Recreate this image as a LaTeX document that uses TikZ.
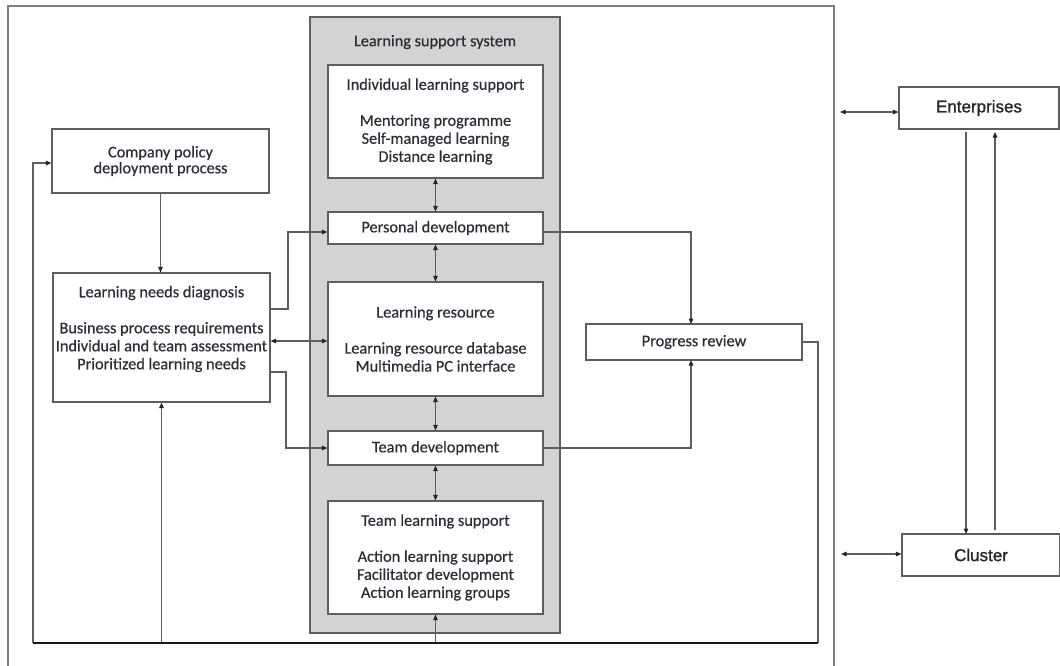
\documentclass[tikz,border=0pt]{standalone}
\usepackage{fontspec}
\setmainfont[FakeBold=0.45]{Carlito}
\newfontfamily\entfont[FakeBold=1.2]{Liberation Sans}
\usetikzlibrary{arrows.meta}
\definecolor{linegray}{HTML}{5E5E5E}
\definecolor{boxgray}{HTML}{D3D3D3}
\definecolor{txt}{HTML}{2C2C38}
\tikzset{
  tip/.tip={Triangle[length=5.5pt,width=4.5pt,color=black!85]},
  box/.style={draw=linegray, line width=1.1pt, fill=white, inner sep=0pt, text=txt, align=center,
     font=\fontsize{16.3}{18}\selectfont},
  lssbox/.style={draw=linegray, line width=1.3pt, fill=boxgray, inner sep=0pt},
  entbox/.style={draw=linegray, line width=1.1pt, fill=white, inner sep=0pt, text=black!85,
     font=\entfont\fontsize{17}{19}\selectfont},
  lbl/.style={text=txt, align=center, inner sep=0pt, font=\fontsize{16.3}{18}\selectfont},
  conn/.style={draw=linegray, line width=1.1pt},
  arr/.style={conn, -tip},
  darr/.style={conn, tip-tip},
  bus/.style={draw=black!90, line width=2.6pt},
}
\begin{document}
\begin{tikzpicture}[x=1pt,y=-1pt]
\useasboundingbox (0,0) rectangle (1060,665);
% outer frame (open at the bottom)
\coordinate (fbl) at (8,668);
\coordinate (ftl) at (8,6);
\coordinate (ftr) at (834,6);
\coordinate (fbr) at (834,668);
\draw[draw=linegray!80, line width=1.4pt] (fbl) -- (ftl) -- (ftr) -- (fbr);

% learning support system
\node[lssbox, minimum width=250pt, minimum height=616pt] (lss) at (435,325) {};
\node[lbl] (lsst) at (435,42) {Learning support system};

\node[box, minimum width=215pt, minimum height=113pt] (ils) at (435.5,121.5)
  {Individual learning support\\[18pt]Mentoring programme\\Self-managed learning\\Distance learning};
\node[box, minimum width=215pt, minimum height=32pt] (pd) at (435.5,228) {Personal development};
\node[box, minimum width=215pt, minimum height=114pt] (lr) at (435.5,339)
  {Learning resource\\[18pt]Learning resource database\\Multimedia PC interface};
\node[box, minimum width=215pt, minimum height=34pt] (td) at (435.5,448) {Team development};
\node[box, minimum width=215pt, minimum height=113pt] (tls) at (435.5,557.5)
  {Team learning support\\[18pt]Action learning support\\Facilitator development\\Action learning groups};

% left column
\node[box, minimum width=217pt, minimum height=64pt] (cp) at (160.5,161)
  {Company policy\\[-2pt]deployment process};
\node[box, minimum width=217pt, minimum height=129pt] (lnd) at (161.5,337.5) {};
\node[lbl] (lndt) at (161.5,329)
  {Learning needs diagnosis\\[18pt]Business process requirements\\Individual and team assessment\\Prioritized learning needs};

% progress review
\node[box, minimum width=216pt, minimum height=36pt] (pr) at (694,342) {Progress review};

% right side
\node[entbox, minimum width=160pt, minimum height=42pt] (ent) at (979,108) {Enterprises};
\node[entbox, minimum width=158pt, minimum height=42pt] (cl) at (981,555) {Cluster};

% bus
\coordinate (busL) at (33,643);
\coordinate (busR) at (818,643);

% connectors
\draw[arr] (cp.south) -- (cp.south |- lnd.north);
\draw[arr] (lnd.east |- 0,309) -- (288,309) -- (288,232) -- (pd.west |- 0,232);
\draw[darr] (lnd.east |- 0,341) -- (lr.west |- 0,341);
\draw[arr] (lnd.east |- 0,372) -- (286,372) -- (286,448) -- (td.west);

\draw[darr] (ils.south) -- (pd.north);
\draw[darr] (pd.south) -- (lr.north);
\draw[darr] (lr.south) -- (td.north);
\draw[darr] (td.south) -- (tls.north);

\draw[arr] (pd.east |- 0,232) -- (691,232) -- (691,324);
\draw[arr] (td.east) -- (691,448) -- (691,360);

\draw[conn] (pr.east) -- (818,342) -- (busR);
\draw[arr] (busL) -- (33,163) -- (cp.west |- 0,163);
\draw[arr] (lnd.south |- busL) -- (lnd.south);
\draw[arr] (tls.south |- busL) -- (tls.south);
\draw[bus] (busL) -- (busR);

\draw[darr] (840,112) -- (ent.west |- 0,112);
\draw[darr] (841,554) -- (cl.west |- 0,554);
\draw[arr, shorten <=3pt] (966,129) -- (966,534);
\draw[arr, shorten <=4pt, shorten >=3pt] (995,534) -- (995,129);
\end{tikzpicture}
\end{document}
